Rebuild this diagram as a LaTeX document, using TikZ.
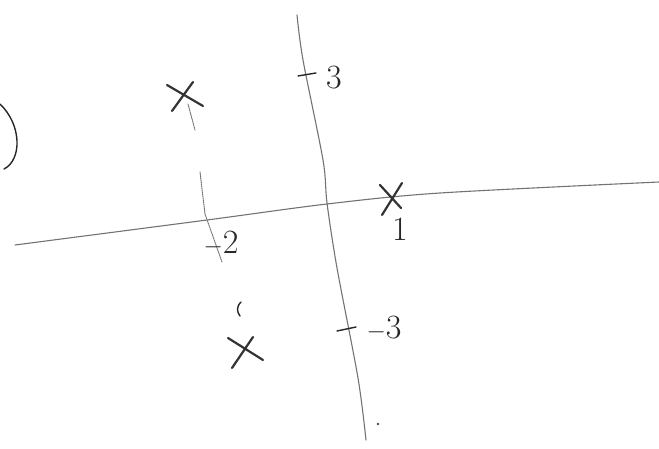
\documentclass[tikz,border=0pt]{standalone}
\usepackage{fontspec}
\usepackage{tikz}
\usetikzlibrary{positioning}

\begin{document}
\begin{tikzpicture}[x=1pt, y=-1pt, line cap=round,
    every node/.style={font=\fontsize{34}{34}\selectfont, text=black!85},
    axis/.style={black!55, line width=1.1pt},
    cross/.style={black!80, line width=2.2pt},
    pen/.style={black!85, line width=1.4pt},
    faint/.style={black!55, line width=1pt, densely dotted}]
    \useasboundingbox (0,0) rectangle (659,449);
    \draw[axis] plot[smooth] coordinates {(15,245) (207,220) (327,204) (440,193) (659,182)};
    \draw[axis] plot[smooth] coordinates {(297,15) (303,60) (323,160) (327,203) (337,268) (358,378) (366,440)};
    \draw[cross] (167,85) -- (203,106) (193,82) -- (172,111);
    \draw[faint] (188,104) -- (195,130);
    \draw[faint] (200,172) -- (205,214) -- (222,262);
    \draw[cross] (380,185) -- (401,208) (402,183) -- (382,215);
    \draw[cross] (228,338) -- (263,360) (253,337) -- (232,368);
    \draw[pen] (298,76) -- (316,73);
    \node (upper) at (334,78) {3};
    \draw[pen] (337,331) -- (356,327);
    \node (lower) at (384,328) {$-$3};
    \node (left) at (221,243) {$-$2};
    \node (right) at (400,229) {1};
    \draw[pen] (0,104) .. controls (22,125) and (22,160) .. (4,169);
    \draw[pen] (241,302) .. controls (236,307) and (237,312) .. (240,316);
    \fill[black!70] (378,424) circle (1.3pt);
  \end{tikzpicture}
\end{document}
